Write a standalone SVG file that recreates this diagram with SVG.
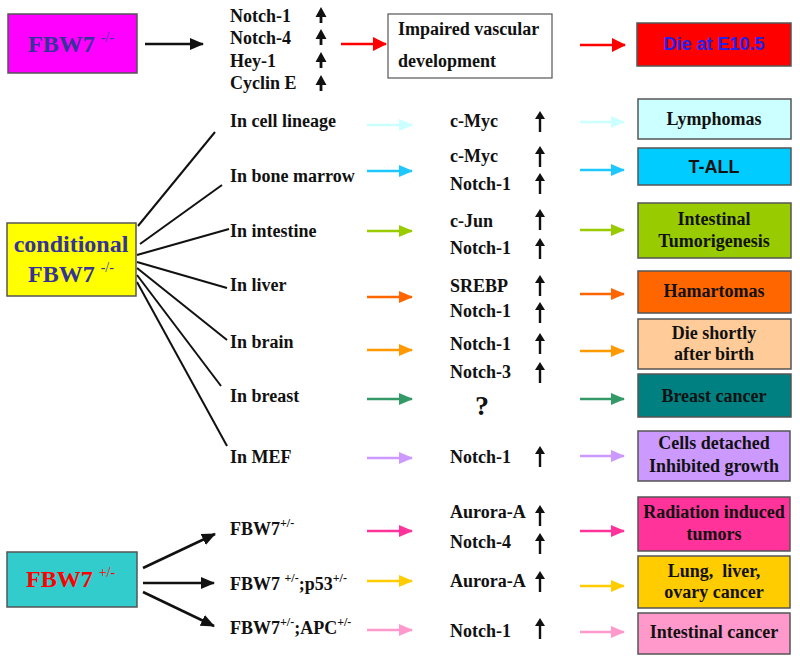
<svg xmlns="http://www.w3.org/2000/svg" xmlns:xlink="http://www.w3.org/1999/xlink" width="800" height="662" viewBox="0 0 800 662">
<style>
  .t{font-family:"Liberation Serif","Times New Roman",serif;font-weight:bold;font-size:18px;fill:#111;}
  .a{font-family:"Liberation Sans",Arial,sans-serif;font-weight:bold;font-size:18px;}
  .c{text-anchor:middle;}
  .box{stroke:#555;stroke-width:1.5;}
  .fan{stroke:#111;stroke-width:2;fill:none;}
  .blk{stroke:#111;stroke-width:2.5;fill:none;}
  .col{stroke-width:2.5;fill:none;}
  .sup{font-size:12px;}
  .big{font-size:24px;}
  .bs{font-size:14px;font-weight:normal;}
</style>
<defs>
  <marker id="mk" markerUnits="userSpaceOnUse" markerWidth="14" markerHeight="12" refX="13" refY="6" orient="auto"><path d="M0,0 L14,6 L0,12 Z" fill="#111"/></marker>
  <marker id="mRed" markerUnits="userSpaceOnUse" markerWidth="14" markerHeight="14" refX="13" refY="7" orient="auto"><path d="M0,0 L14,7 L0,14 Z" fill="#FF0000"/></marker>
  <marker id="m1" markerUnits="userSpaceOnUse" markerWidth="14" markerHeight="12" refX="13" refY="6" orient="auto"><path d="M0,0 L14,6 L0,12 Z" fill="#CCFFFF"/></marker>
  <marker id="m2" markerUnits="userSpaceOnUse" markerWidth="14" markerHeight="12" refX="13" refY="6" orient="auto"><path d="M0,0 L14,6 L0,12 Z" fill="#1EC8FF"/></marker>
  <marker id="m3" markerUnits="userSpaceOnUse" markerWidth="14" markerHeight="12" refX="13" refY="6" orient="auto"><path d="M0,0 L14,6 L0,12 Z" fill="#99CC00"/></marker>
  <marker id="m4" markerUnits="userSpaceOnUse" markerWidth="14" markerHeight="12" refX="13" refY="6" orient="auto"><path d="M0,0 L14,6 L0,12 Z" fill="#FF6600"/></marker>
  <marker id="m5" markerUnits="userSpaceOnUse" markerWidth="14" markerHeight="12" refX="13" refY="6" orient="auto"><path d="M0,0 L14,6 L0,12 Z" fill="#FF9900"/></marker>
  <marker id="m6" markerUnits="userSpaceOnUse" markerWidth="14" markerHeight="12" refX="13" refY="6" orient="auto"><path d="M0,0 L14,6 L0,12 Z" fill="#339966"/></marker>
  <marker id="m7" markerUnits="userSpaceOnUse" markerWidth="14" markerHeight="12" refX="13" refY="6" orient="auto"><path d="M0,0 L14,6 L0,12 Z" fill="#CC99FF"/></marker>
  <marker id="m8" markerUnits="userSpaceOnUse" markerWidth="14" markerHeight="12" refX="13" refY="6" orient="auto"><path d="M0,0 L14,6 L0,12 Z" fill="#FF3399"/></marker>
  <marker id="m9" markerUnits="userSpaceOnUse" markerWidth="14" markerHeight="12" refX="13" refY="6" orient="auto"><path d="M0,0 L14,6 L0,12 Z" fill="#FFCC00"/></marker>
  <marker id="m10" markerUnits="userSpaceOnUse" markerWidth="14" markerHeight="12" refX="13" refY="6" orient="auto"><path d="M0,0 L14,6 L0,12 Z" fill="#FF99CC"/></marker>
  <path id="upS" d="M0,0 L5.5,10 L1.4,10 L1.4,16 L-1.4,16 L-1.4,10 L-5.5,10 Z" fill="#111"/>
  <path id="up" d="M0,0 L5,8 L1.2,8 L1.2,21 L-1.2,21 L-1.2,8 L-5,8 Z" fill="#111"/>
</defs>
<rect width="800" height="662" fill="#fff"/>

<!-- connectors -->
<g id="connectors">
  <line class="blk" x1="145" y1="44" x2="203" y2="44" marker-end="url(#mk)"/>
  <line class="col" stroke="#FF0000" x1="341" y1="44" x2="386" y2="44" marker-end="url(#mRed)"/>
  <line class="col" stroke="#FF0000" x1="580" y1="45" x2="625" y2="45" marker-end="url(#mRed)"/>

  <line class="fan" x1="138" y1="226" x2="215" y2="132"/>
  <line class="fan" x1="140" y1="244" x2="222" y2="185"/>
  <line class="fan" x1="137" y1="255" x2="229" y2="229"/>
  <line class="fan" x1="137" y1="262" x2="227" y2="288"/>
  <line class="fan" x1="137" y1="268" x2="227" y2="340"/>
  <line class="fan" x1="137" y1="275" x2="221" y2="386"/>
  <line class="fan" x1="137" y1="282" x2="227" y2="446"/>

  <line class="blk" x1="143" y1="568" x2="215" y2="534" marker-end="url(#mk)"/>
  <line class="blk" x1="143" y1="583" x2="214" y2="583" marker-end="url(#mk)"/>
  <line class="blk" x1="143" y1="592" x2="214" y2="626" marker-end="url(#mk)"/>

  <line class="col" stroke="#CCFFFF" x1="367" y1="125" x2="412" y2="125" marker-end="url(#m1)"/>
  <line class="col" stroke="#1EC8FF" x1="367" y1="171" x2="412" y2="171" marker-end="url(#m2)"/>
  <line class="col" stroke="#99CC00" x1="367" y1="231" x2="412" y2="231" marker-end="url(#m3)"/>
  <line class="col" stroke="#FF6600" x1="367" y1="297" x2="412" y2="297" marker-end="url(#m4)"/>
  <line class="col" stroke="#FF9900" x1="367" y1="350" x2="412" y2="350" marker-end="url(#m5)"/>
  <line class="col" stroke="#339966" x1="367" y1="399" x2="412" y2="399" marker-end="url(#m6)"/>
  <line class="col" stroke="#CC99FF" x1="367" y1="458" x2="412" y2="458" marker-end="url(#m7)"/>
  <line class="col" stroke="#FF3399" x1="367" y1="531" x2="412" y2="531" marker-end="url(#m8)"/>
  <line class="col" stroke="#FFCC00" x1="367" y1="581" x2="412" y2="581" marker-end="url(#m9)"/>
  <line class="col" stroke="#FF99CC" x1="367" y1="630" x2="412" y2="630" marker-end="url(#m10)"/>

  <line class="col" stroke="#CCFFFF" x1="580" y1="122" x2="624" y2="122" marker-end="url(#m1)"/>
  <line class="col" stroke="#1EC8FF" x1="580" y1="170" x2="624" y2="170" marker-end="url(#m2)"/>
  <line class="col" stroke="#99CC00" x1="580" y1="230" x2="624" y2="230" marker-end="url(#m3)"/>
  <line class="col" stroke="#FF6600" x1="580" y1="294" x2="624" y2="294" marker-end="url(#m4)"/>
  <line class="col" stroke="#FF9900" x1="580" y1="351" x2="624" y2="351" marker-end="url(#m5)"/>
  <line class="col" stroke="#339966" x1="580" y1="399" x2="624" y2="399" marker-end="url(#m6)"/>
  <line class="col" stroke="#CC99FF" x1="580" y1="456" x2="624" y2="456" marker-end="url(#m7)"/>
  <line class="col" stroke="#FF3399" x1="580" y1="531" x2="624" y2="531" marker-end="url(#m8)"/>
  <line class="col" stroke="#FFCC00" x1="580" y1="586" x2="624" y2="586" marker-end="url(#m9)"/>
  <line class="col" stroke="#FF99CC" x1="580" y1="632" x2="624" y2="632" marker-end="url(#m10)"/>
</g>

<!-- left source boxes -->
<g id="fbw7-null">
  <rect class="box" x="8" y="14" width="129" height="59" fill="#FF00FF"/>
  <text class="t big" x="28" y="52" style="fill:#333399">FBW7 <tspan class="bs" dy="-10">-/-</tspan></text>
</g>
<g id="conditional">
  <rect class="box" x="7" y="223" width="129" height="73" fill="#FFFF00"/>
  <text class="t big c" x="71" y="252" style="fill:#333399">conditional</text>
  <text class="t big" x="28" y="282" style="fill:#333399">FBW7 <tspan class="bs" dy="-10">-/-</tspan></text>
</g>
<g id="fbw7-het">
  <rect class="box" x="7" y="552" width="130" height="55" fill="#33CCCC"/>
  <text class="t big" x="26" y="587" style="fill:#FF0000">FBW7 <tspan class="bs" dy="-10">+/-</tspan></text>
</g>

<!-- top row -->
<g id="top-genes">
  <text class="t" x="230" y="22">Notch-1</text>
  <text class="t" x="230" y="44">Notch-4</text>
  <text class="t" x="230" y="67">Hey-1</text>
  <text class="t" x="230" y="89">Cyclin E</text>
  <use href="#upS" x="321" y="7"/>
  <use href="#upS" x="321" y="29"/>
  <use href="#upS" x="321" y="52"/>
  <use href="#upS" x="321" y="75"/>
</g>
<g id="impaired">
  <rect x="388" y="14" width="164" height="64" fill="#fff" stroke="#555" stroke-width="1.2"/>
  <text class="t" x="398" y="35">Impaired vascular</text>
  <text class="t" x="398" y="67">development</text>
</g>
<g id="die-e105">
  <rect class="box" x="637" y="23" width="154" height="43" fill="#FF0000"/>
  <text class="a c" x="714" y="50" fill="#2222EE">Die at E10.5</text>
</g>

<!-- tissue labels -->
<g id="tissues">
  <text class="t" x="230" y="127">In cell lineage</text>
  <text class="t" x="230" y="182">In bone marrow</text>
  <text class="t" x="230" y="237">In intestine</text>
  <text class="t" x="230" y="291">In liver</text>
  <text class="t" x="230" y="348">In brain</text>
  <text class="t" x="230" y="402">In breast</text>
  <text class="t" x="230" y="463">In MEF</text>
</g>
<g id="genotypes">
  <text class="t" x="230" y="535">FBW7<tspan class="sup" dy="-8">+/-</tspan></text>
  <text class="t" x="230" y="590">FBW7 <tspan class="sup" dy="-8">+/-</tspan><tspan dy="8">;p53</tspan><tspan class="sup" dy="-8">+/-</tspan></text>
  <text class="t" x="230" y="634">FBW7<tspan class="sup" dy="-8">+/-</tspan><tspan dy="8">;APC</tspan><tspan class="sup" dy="-8">+/-</tspan></text>
</g>

<!-- middle gene column -->
<g id="genes">
  <text class="t" x="450" y="127">c-Myc</text>
  <text class="t" x="450" y="162">c-Myc</text>
  <text class="t" x="450" y="190">Notch-1</text>
  <text class="t" x="450" y="227">c-Jun</text>
  <text class="t" x="450" y="254">Notch-1</text>
  <text class="t" x="450" y="292">SREBP</text>
  <text class="t" x="450" y="317">Notch-1</text>
  <text class="t" x="450" y="350">Notch-1</text>
  <text class="t" x="450" y="378">Notch-3</text>
  <text class="t c" x="482" y="415" style="font-size:28px">?</text>
  <text class="t" x="450" y="463">Notch-1</text>
  <text class="t" x="450" y="518">Aurora-A</text>
  <text class="t" x="450" y="548">Notch-4</text>
  <text class="t" x="450" y="587">Aurora-A</text>
  <text class="t" x="450" y="637">Notch-1</text>
  <use href="#up" x="540" y="111"/>
  <use href="#up" x="540" y="146"/>
  <use href="#up" x="540" y="173"/>
  <use href="#up" x="540" y="209"/>
  <use href="#up" x="540" y="238"/>
  <use href="#up" x="540" y="275"/>
  <use href="#up" x="540" y="302"/>
  <use href="#up" x="540" y="333"/>
  <use href="#up" x="540" y="362"/>
  <use href="#up" x="540" y="446"/>
  <use href="#up" x="540" y="505"/>
  <use href="#up" x="540" y="533"/>
  <use href="#up" x="540" y="571"/>
  <use href="#up" x="540" y="618"/>
</g>

<!-- outcome boxes -->
<g id="lymphomas">
  <rect class="box" x="638" y="99" width="153" height="40" fill="#CCFFFF"/>
  <text class="t c" x="714" y="125">Lymphomas</text>
</g>
<g id="tall">
  <rect class="box" x="638" y="148" width="153" height="37" fill="#00CCFF"/>
  <text class="a c" x="714" y="173" fill="#111">T-ALL</text>
</g>
<g id="intestinal">
  <rect class="box" x="638" y="203" width="153" height="55" fill="#99CC00"/>
  <text class="t c" x="714" y="225">Intestinal</text>
  <text class="t c" x="714" y="247">Tumorigenesis</text>
</g>
<g id="hamartomas">
  <rect class="box" x="638" y="271" width="153" height="42" fill="#FF6600"/>
  <text class="t c" x="714" y="297">Hamartomas</text>
</g>
<g id="die-shortly">
  <rect class="box" x="638" y="319" width="153" height="50" fill="#FFCC99"/>
  <text class="t c" x="714" y="339">Die shortly</text>
  <text class="t c" x="714" y="360">after birth</text>
</g>
<g id="breast-cancer">
  <rect class="box" x="638" y="374" width="153" height="43" fill="#008080"/>
  <text class="t c" x="714" y="402">Breast cancer</text>
</g>
<g id="cells-detached">
  <rect class="box" x="638" y="431" width="152" height="50" fill="#CC99FF"/>
  <text class="t c" x="714" y="449">Cells detached</text>
  <text class="t c" x="714" y="472">Inhibited growth</text>
</g>
<g id="radiation">
  <rect class="box" x="638" y="497" width="152" height="54" fill="#FF3399"/>
  <text class="t c" x="714" y="518">Radiation induced</text>
  <text class="t c" x="714" y="540">tumors</text>
</g>
<g id="lung">
  <rect class="box" x="638" y="556" width="152" height="52" fill="#FFCC00"/>
  <text class="t c" x="714" y="577" xml:space="preserve">Lung,  liver,</text>
  <text class="t c" x="714" y="598">ovary cancer</text>
</g>
<g id="intestinal-cancer">
  <rect class="box" x="638" y="613" width="152" height="41" fill="#FF99CC"/>
  <text class="t c" x="714" y="638">Intestinal cancer</text>
</g>
</svg>
